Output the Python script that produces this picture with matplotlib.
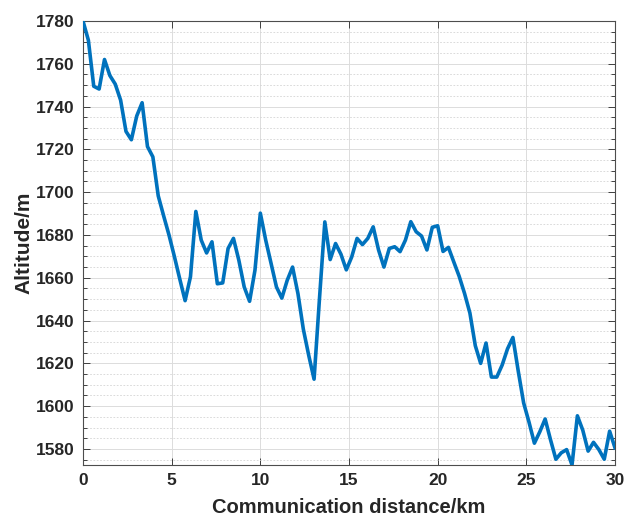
import numpy as np
import matplotlib.pyplot as plt
from matplotlib.ticker import MultipleLocator

# altitude sampled along the link, 100 evenly spaced points over 30 km
distance = np.linspace(0, 30, 100)
altitude = [
    1780.0, 1771.0, 1749.5, 1748.2, 1762.0, 1754.5, 1750.5, 1743.0, 1728.4, 1724.5,
    1735.6, 1741.8, 1721.3, 1716.5, 1698.3, 1689.0, 1680.0, 1670.0, 1659.5, 1649.3,
    1660.5, 1691.0, 1677.6, 1671.6, 1676.8, 1657.2, 1657.6, 1673.7, 1678.4, 1668.2,
    1655.7, 1649.0, 1663.5, 1690.2, 1677.6, 1666.7, 1655.7, 1650.5, 1658.8, 1665.0,
    1652.6, 1636.0, 1623.8, 1612.6, 1650.0, 1686.1, 1668.5, 1676.0, 1671.0, 1663.7,
    1669.7, 1678.4, 1675.5, 1678.4, 1683.8, 1673.0, 1665.0, 1673.7, 1674.5, 1672.2,
    1677.6, 1686.2, 1681.5, 1679.5, 1673.0, 1683.6, 1684.3, 1672.3, 1674.2, 1667.4,
    1660.7, 1652.7, 1643.5, 1628.3, 1620.0, 1629.5, 1613.6, 1613.6, 1619.2, 1626.8,
    1632.1, 1616.3, 1601.5, 1592.5, 1582.7, 1588.0, 1594.0, 1584.3, 1575.2, 1578.2,
    1579.7, 1572.5, 1595.5, 1588.8, 1579.0, 1583.1, 1579.7, 1575.2, 1588.3, 1580.5,
]

plt.rcParams['font.family'] = ['Liberation Sans', 'DejaVu Sans']
dark = '#262626'

fig = plt.figure(figsize=(6.25, 5.18), dpi=100)
ax = fig.add_axes([0.1328, 0.1023, 0.8512, 0.8572])

ax.plot(distance, altitude, color='#0072BD', linewidth=2.6, zorder=3)

ax.set_xlim(0, 30)
ax.set_ylim(min(altitude), max(altitude))
ax.xaxis.set_major_locator(MultipleLocator(5))
ax.yaxis.set_major_locator(MultipleLocator(20))
ax.yaxis.set_minor_locator(MultipleLocator(5))

# matlab-like box: ticks inside on all four sides, minor ticks only on y
ax.tick_params(which='both', direction='in', top=True, right=True,
               color=dark, width=0.6)
ax.tick_params(which='major', length=5, labelsize=12.5, labelcolor=dark, pad=6)
ax.tick_params(which='minor', length=3)
for lbl in ax.get_xticklabels() + ax.get_yticklabels():
    lbl.set_fontweight('bold')
for s in ax.spines.values():
    s.set_color('#4d4d4d')
    s.set_linewidth(0.8)

ax.grid(which='major', color='#dcdcdc', linewidth=0.7, linestyle='-')
ax.yaxis.grid(which='minor', color='#d4d4d4', linewidth=0.6, linestyle=(0, (2, 2)))
ax.set_axisbelow(True)

ax.set_xlabel('Communication distance/km', fontsize=14.5, fontweight='bold',
              color=dark, labelpad=7)
ax.set_ylabel('Altitude/m', fontsize=15, fontweight='bold', color=dark,
              labelpad=2)

fig.savefig('out.png', dpi=100)
